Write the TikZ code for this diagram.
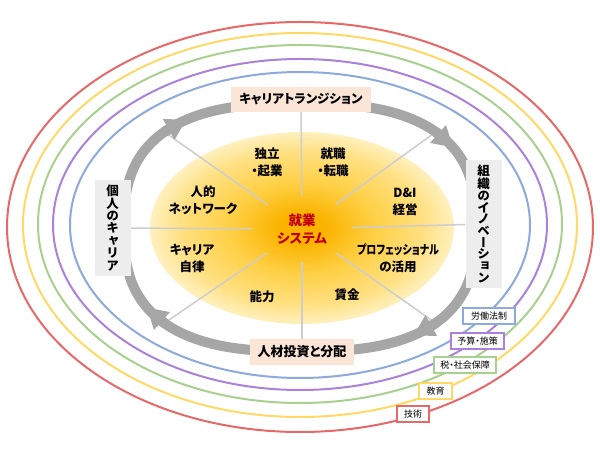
\documentclass[tikz,border=0pt]{standalone}
\usepackage{fontspec}
\setmainfont{Noto Sans CJK JP}[RawFeature=+palt]
\newfontfamily\vertjp{Noto Sans CJK JP}[RawFeature=+vert]
\usepackage{tikz}
\usetikzlibrary{arrows.meta,positioning,shapes.geometric}
\pgfdeclarelayer{back}
\pgfsetlayers{back,main}
\definecolor{ringgray}{RGB}{166,166,166}
\definecolor{spokegray}{RGB}{205,205,205}
\definecolor{peach}{RGB}{251,229,214}
\definecolor{boxgray}{RGB}{237,237,237}
\definecolor{lred}{RGB}{230,105,105}
\definecolor{lyellow}{RGB}{255,217,102}
\definecolor{lgreen}{RGB}{169,208,142}
\definecolor{lpurple}{RGB}{171,130,218}
\definecolor{lblue}{RGB}{142,169,219}
\definecolor{sysred}{RGB}{192,0,0}
\definecolor{yolkcore}{RGB}{250,180,0}
\definecolor{yolkmid}{RGB}{255,208,70}
\definecolor{yolkwarm}{RGB}{255,224,130}
\definecolor{yolkpale}{RGB}{255,240,190}
\pgfdeclareradialshading{yolk}{\pgfpoint{0bp}{0bp}}{color(0bp)=(yolkcore); color(4bp)=(yolkcore); color(12bp)=(yolkmid); color(20bp)=(yolkwarm); color(25bp)=(yolkpale); color(50bp)=(yolkpale)}
\tikzset{
  orbit/.style={draw=#1, line width=2pt},
  ringline/.style={draw=ringgray, line width=10pt},
  ringhead/.style={draw=ringgray, line width=10pt, -{Triangle[width=24pt,length=20pt,line width=0pt]}},
  spoke/.style={draw=spokegray, line width=1.5pt},
  cyclebox/.style={fill=peach, inner xsep=8pt, inner ysep=0pt, minimum height=25pt},
  sidebox/.style={fill=boxgray, font=\vertjp\bfseries\fontsize{12.5}{12.4}\selectfont, align=center, inner sep=0pt, minimum width=36pt},
  topic/.style={font=\bfseries\fontsize{12.5}{17}\selectfont, align=center},
  policytag/.style={draw=#1, line width=1.5pt, fill=white, font=\fontsize{9}{10}\selectfont, inner xsep=4pt, inner ysep=0pt, minimum height=16pt}
}

\begin{document}
\begin{tikzpicture}[x=1pt, y=1pt,
  declare function={rx(\t)=300+176*cos(\t)*pow(abs(cos(\t))+0.0001,-0.25);
                     ry(\t)=222.5+124*sin(\t)*pow(abs(sin(\t))+0.0001,-0.25);}]
\useasboundingbox (0,0) rectangle (600,450);
% gray cycle
\draw[ringline] plot[domain=0:357.5, samples=144, variable=\t] ({rx(\t)},{ry(\t)}) -- cycle;
\foreach \a in {135,45,-45,-135}
  \draw[ringhead] ({rx(\a)},{ry(\a)}) -- ({rx(\a-11)},{ry(\a-11)});
\foreach \a/\n in {135/nw,45/ne,-45/se,-135/sw}
  \coordinate (out-\n) at ({rx(\a)},{ry(\a)});
% boxes on the cycle
\node[cyclebox, font=\bfseries\fontsize{12.5}{13}\selectfont] (transit) at (301,350.5) {キャリアトランジション};
\node[cyclebox, minimum height=26pt, font=\bfseries\fontsize{13}{14}\selectfont] (invest) at (302,98) {人材投資と分配};
\node[sidebox, minimum height=96pt] (career) at (112.5,222) {個\\人\\の\\キ\\ャ\\リ\\ア};
\node[sidebox, minimum height=128pt, font=\vertjp\bfseries\fontsize{12.5}{11.7}\selectfont] (innov) at (483.5,226) {組\\織\\の\\イ\\ノ\\ベ\\ー\\シ\\ョ\\ン};
% inside the yellow field
\node[ellipse, inner sep=0pt, minimum width=100pt, minimum height=66pt, align=center, text=sysred,
      font=\bfseries\fontsize{13.5}{18}\selectfont] (core) at (302,221) {就業\\システム};
\node[topic] (indep) at (267,288) {独立\\・起業};
\node[topic] (jobchange) at (333,288) {就職\\・転職};
\node[topic] (dandi) at (405,248) {D\&I\\経営};
\node[topic] (pro) at (398,192) {\scalebox{0.8}[1]{プロフェッショナル}\\の活用};
\node[topic] (wage) at (347,155) {賃金};
\node[topic] (ability) at (262,153) {能力};
\node[topic] (autonomy) at (192,192) {キャリア\\自律};
\node[topic] (network) at (203,250) {人的\\ネットワーク};
% policy tags
\node[policytag=lblue, minimum width=52pt] (labor) at (489,134) {労働法制};
\node[policytag=lpurple, minimum width=53pt] (budget) at (477.5,109) {予算・施策};
\node[policytag=lgreen, minimum width=62pt] (tax) at (465,85) {税・社会保障};
\node[policytag=lyellow, minimum width=33pt] (edu) at (435.5,59) {教育};
\node[policytag=lred, minimum width=32pt] (tech) at (413,36) {技術};
\begin{pgfonlayer}{back}
  \fill[white] (0,0) rectangle (600,450);
  \foreach \c/\a/\b/\y in {lred/293/205/223, lyellow/277/192/225, lgreen/262/179/226,
                           lpurple/247/165.5/225.5, lblue/230/153/225}
    \draw[orbit=\c] (300,\y) ellipse[x radius=\a, y radius=\b];
  \shade[shading=yolk] (302,222) ellipse[x radius=152, y radius=96];
  \path[spoke] (core) edge (transit) edge (invest) edge (career) edge (innov)
    edge (out-nw) edge (out-ne) edge (out-se) edge (out-sw);
\end{pgfonlayer}
\end{tikzpicture}
\end{document}
